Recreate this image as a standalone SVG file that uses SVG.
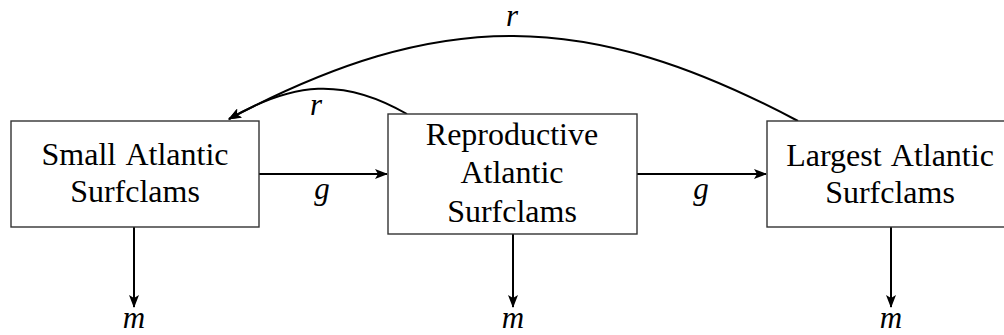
<svg xmlns="http://www.w3.org/2000/svg" width="1004" height="335" viewBox="0 0 1004 335">
<style>
.box{fill:#fff;stroke:#333;stroke-width:1.4}
.t{font-family:"Liberation Serif","Times New Roman",serif;font-size:32px;word-spacing:3px;fill:#000;text-anchor:middle}
.lab{font-family:"Liberation Serif","Times New Roman",serif;font-size:31px;font-style:italic;fill:#000;text-anchor:middle}
.edge{fill:none;stroke:#000;stroke-width:2}
</style>
<defs>
<marker id="ah" viewBox="0 0 13 10" refX="12" refY="5" markerWidth="13" markerHeight="10" markerUnits="userSpaceOnUse" orient="auto">
<path d="M0,0 L13,5 L0,10 L3,5 Z" fill="#000"/>
</marker>
</defs>
<g id="connectors">
<path class="edge" d="M259,174 L387,174" marker-end="url(#ah)"/>
<path class="edge" d="M637,174 L766,174" marker-end="url(#ah)"/>
<path class="edge" d="M134,227 L134,307" marker-end="url(#ah)"/>
<path class="edge" d="M513,234 L513,307" marker-end="url(#ah)"/>
<path class="edge" d="M891,227 L891,307" marker-end="url(#ah)"/>
<path class="edge" d="M407,114 C343,77 293,82 229,119" marker-end="url(#ah)"/>
<path class="edge" d="M798,121 C587,9 440,7 229,119" marker-end="url(#ah)"/>
<text class="lab" x="322" y="199">g</text>
<text class="lab" x="701" y="199">g</text>
<text class="lab" x="316" y="115">r</text>
<text class="lab" x="512" y="26">r</text>
<text class="lab" x="134" y="328">m</text>
<text class="lab" x="513" y="328">m</text>
<text class="lab" x="891" y="328">m</text>
</g>
<g id="small">
<rect class="box" x="11" y="121" width="248" height="106"/>
<text class="t" x="135" y="165">Small Atlantic</text>
<text class="t" x="135" y="202">Surfclams</text>
</g>
<g id="reproductive">
<rect class="box" x="388" y="114" width="249" height="120"/>
<text class="t" x="512" y="145">Reproductive</text>
<text class="t" x="512" y="183">Atlantic</text>
<text class="t" x="512" y="222">Surfclams</text>
</g>
<g id="largest">
<rect class="box" x="767" y="121" width="245" height="106"/>
<text class="t" x="890" y="166">Largest Atlantic</text>
<text class="t" x="890" y="203">Surfclams</text>
</g>
</svg>
